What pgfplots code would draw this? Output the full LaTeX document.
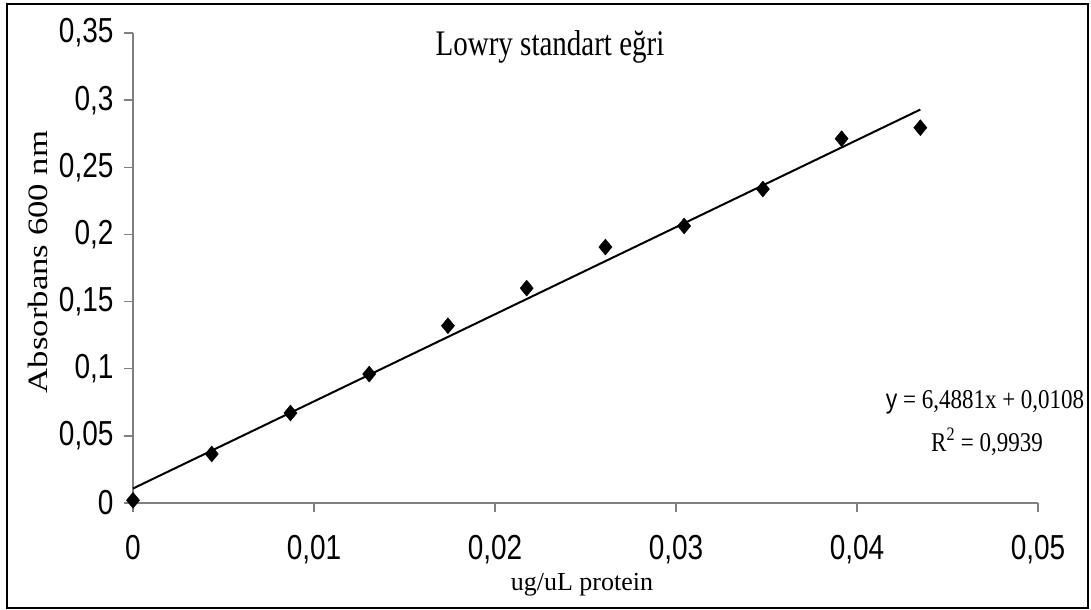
\documentclass[border=0pt]{standalone}
\usepackage{pgfplots}
\pgfplotsset{compat=1.18}
\usepackage{graphicx}
\usepackage{fontspec}
\setmainfont{Liberation Serif}
\newfontfamily\arial{Liberation Sans}
\newcommand\tl[1]{\scalebox{1}[1.24]{#1}}
\begin{document}
\begin{tikzpicture}
\useasboundingbox (0,0) rectangle (1091bp,610bp);
\draw[black, line width=1.5bp] (7bp,2bp) rectangle (1088bp,606bp);
\begin{axis}[
  at={(133bp,107bp)}, anchor=south west,
  scale only axis, width=905bp, height=470bp,
  xmin=0, xmax=0.05, ymin=0, ymax=0.35,
  axis x line*=bottom, axis y line*=left,
  axis line style={gray, line width=1.3bp},
  tick style={gray, line width=1.3bp},
  tick align=outside, major tick length=9bp,
  scaled ticks=false,
  xtick={0,0.01,0.02,0.03,0.04,0.05},
  xticklabels={\tl{0},\tl{0,01},\tl{0,02},\tl{0,03},\tl{0,04},\tl{0,05}},
  ytick={0,0.05,0.1,0.15,0.2,0.25,0.3,0.35},
  yticklabels={\tl{0},\tl{0,05},\tl{0,1},\tl{0,15},\tl{0,2},\tl{0,25},\tl{0,3},\tl{0,35}},
  ticklabel style={font=\arial\fontsize{28bp}{34bp}\selectfont, black},
  xticklabel style={yshift=-20bp},
  yticklabel style={xshift=-7bp},
  clip=false,
]
\addplot[black, line width=2bp, no marks] coordinates {(0,0.0108) (0.0435,0.2930)};
\addplot[only marks, mark=diamond*, mark size=8bp, mark options={xscale=1.1}, black] coordinates {
(0,0.002) (0.00435,0.0365) (0.0087,0.067) (0.01305,0.096) (0.0174,0.132)
(0.02175,0.160) (0.0261,0.1906) (0.03045,0.2063) (0.0348,0.2338)
(0.03915,0.2713) (0.0435,0.2795)};
\end{axis}
\node[font=\fontsize{29bp}{34bp}\selectfont] at (550bp,563bp) {\tl{Lowry standart eğri}};
\node[rotate=90, font=\fontsize{28bp}{34bp}\selectfont] at (38bp,348bp) {\scalebox{1.24}[1]{Absorbans 600 nm}};
\node[font=\fontsize{26bp}{30bp}\selectfont] at (582bp,25bp) {ug/uL protein};
\node[font=\fontsize{23bp}{28bp}\selectfont] at (985bp,208bp) {\scalebox{1}[1.18]{{\arial y} = 6,4881x + 0,0108}};
\node[font=\fontsize{23bp}{28bp}\selectfont] at (987bp,168bp) {\scalebox{1}[1.18]{R\textsuperscript{2} = 0,9939}};
\end{tikzpicture}
\end{document}
